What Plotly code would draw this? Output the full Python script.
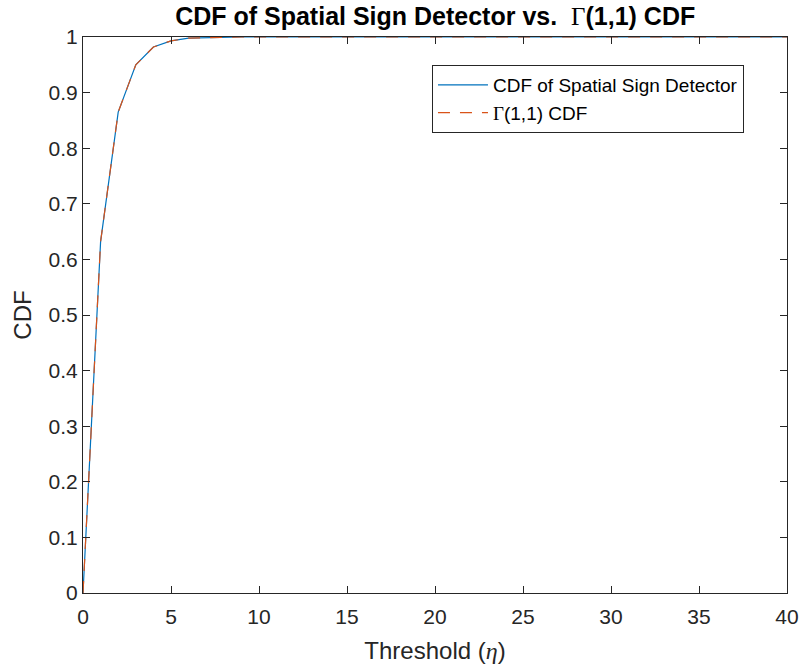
import plotly.graph_objects as go

threshold = list(range(0, 41))
cdf_detector = [0.000, 0.632, 0.865, 0.950, 0.982, 0.993, 0.998, 0.999, 1.000, 1.000,
                1.000, 1.000, 1.000, 1.000, 1.000, 1.000, 1.000, 1.000, 1.000, 1.000,
                1.000, 1.000, 1.000, 1.000, 1.000, 1.000, 1.000, 1.000, 1.000, 1.000,
                1.000, 1.000, 1.000, 1.000, 1.000, 1.000, 1.000, 1.000, 1.000, 1.000,
                1.000]
cdf_gamma = [0.000, 0.632, 0.865, 0.950, 0.982, 0.993, 0.998, 0.999, 1.000, 1.000,
             1.000, 1.000, 1.000, 1.000, 1.000, 1.000, 1.000, 1.000, 1.000, 1.000,
             1.000, 1.000, 1.000, 1.000, 1.000, 1.000, 1.000, 1.000, 1.000, 1.000,
             1.000, 1.000, 1.000, 1.000, 1.000, 1.000, 1.000, 1.000, 1.000, 1.000,
             1.000]
x_ticks = [0, 5, 10, 15, 20, 25, 30, 35, 40]
y_ticks = [0, 0.1, 0.2, 0.3, 0.4, 0.5, 0.6, 0.7, 0.8, 0.9, 1]
y_tick_labels = ["0", "0.1", "0.2", "0.3", "0.4", "0.5", "0.6", "0.7", "0.8", "0.9", "1"]

font_family = "Liberation Sans, Arial, Helvetica, sans-serif"
serif = "font-family:'Liberation Serif','DejaVu Serif',serif;font-weight:normal"
axis_color = "#262626"

gamma_html = "<span style=\"%s\">Γ</span>" % serif
eta_html = "<span style=\"%s\"><i>η</i></span>" % serif

fig = go.Figure()
fig.add_trace(go.Scatter(x=threshold, y=cdf_detector, mode="lines",
                         name="CDF of Spatial Sign Detector",
                         line=dict(color="#0072BD", width=1.2)))
fig.add_trace(go.Scatter(x=threshold, y=cdf_gamma, mode="lines",
                         name=gamma_html + "(1,1) CDF",
                         line=dict(color="#D95319", width=1.2, dash="12px,10px")))

axis_common = dict(showgrid=False, zeroline=False, showline=True, linecolor=axis_color,
                   linewidth=1, mirror="ticks", ticks="inside", ticklen=7,
                   tickcolor=axis_color, tickwidth=1, automargin=False,
                   tickfont=dict(family=font_family, size=21, color=axis_color))

fig.update_layout(
    width=800, height=666,
    margin=dict(l=83, r=13, t=37, b=73),
    plot_bgcolor="white", paper_bgcolor="white",
    title=dict(text="<b>CDF of Spatial Sign Detector vs.\u00a0 </b>" + gamma_html + "<b>(1,1) CDF</b>",
               x=0.544, xanchor="center", y=0.976, yanchor="middle",
               font=dict(family=font_family, size=25, color="black")),
    xaxis=dict(range=[0, 40], tickvals=x_ticks, ticklabelstandoff=5,
               title=dict(text="Threshold (" + eta_html + ")", standoff=14,
                          font=dict(family=font_family, size=24, color=axis_color)),
               **axis_common),
    yaxis=dict(range=[0, 1], tickvals=y_ticks, ticktext=y_tick_labels,
               title=dict(text="CDF", standoff=10,
                          font=dict(family=font_family, size=24, color=axis_color)),
               **axis_common),
    legend=dict(x=0.4957, y=0.9496, xanchor="left", yanchor="top",
                bgcolor="white", bordercolor=axis_color, borderwidth=1,
                font=dict(family=font_family, size=19, color="black"),
                itemwidth=50),
    showlegend=True,
)

fig.write_html("out.html")
